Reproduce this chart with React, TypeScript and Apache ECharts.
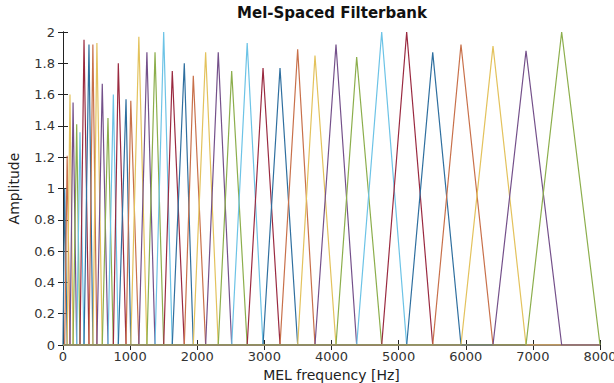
import React, { useEffect, useRef } from "react";
import * as echarts from "echarts";

// Filter centre frequencies (Hz) and peak amplitudes
const peakHz = [
  25, 62, 104, 150, 204, 253, 313, 387, 445, 505,
  585, 670, 750, 824, 939, 1010, 1130, 1250, 1371, 1500,
  1628, 1807, 1941, 2125, 2313, 2513, 2744, 2980, 3233, 3496,
  3754, 4067, 4375, 4748, 5120, 5508, 5929, 6406, 6898, 7429,
];
const peakAmp = [
  1.0, 1.21, 1.6, 1.55, 1.41, 1.36, 1.95, 1.92, 1.92, 1.93,
  1.67, 1.45, 1.6, 1.8, 1.57, 1.56, 1.97, 1.87, 1.87, 2.0,
  1.75, 1.8, 1.72, 1.87, 1.87, 1.75, 1.93, 1.77, 1.77, 1.89,
  1.85, 1.92, 1.84, 2.0, 2.0, 1.87, 1.92, 1.91, 1.88, 2.0,
];
const freqRange = [0, 8000];
const ampRange = [0, 2];
const lineColors = ["#2f6f9f", "#c8704a", "#e3c25c", "#74508a", "#8cae4c", "#6cc3e6", "#9a2a40"];
const titleText = "Mel-Spaced Filterbank";
const xName = "MEL frequency [Hz]";
const yName = "Amplitude";

export default function App() {
  const ref = useRef<HTMLDivElement>(null);
  useEffect(() => {
    document.body.style.margin = "0";
    const chart = echarts.init(ref.current!, null, { renderer: "svg" });
    const n = peakHz.length;
    const series = peakHz.map((c, i) => {
      const start = i === 0 ? freqRange[0] : peakHz[i - 1];
      const end = i === n - 1 ? freqRange[1] : peakHz[i + 1];
      return {
        type: "line",
        showSymbol: false,
        silent: true,
        data: [
          [freqRange[0], 0],
          [start, 0],
          [c, peakAmp[i]],
          [end, 0],
          [freqRange[1], 0],
        ],
        lineStyle: { width: 1.2, color: lineColors[i % lineColors.length] },
        itemStyle: { color: lineColors[i % lineColors.length] },
      };
    });
    const axisLine = { show: true, lineStyle: { color: "#222", width: 1 } };
    const tick = { show: true, inside: true, length: 5, lineStyle: { color: "#222" } };
    chart.setOption({
      animation: false,
      backgroundColor: "#fff",
      grid: { left: 63, right: 14, top: 32, bottom: 38, outerBoundsMode: "none", containLabel: false },
      graphic: [
        {
          type: "text",
          x: 332,
          y: 13,
          style: {
            text: titleText,
            font: "bold 15px 'DejaVu Sans'",
            fill: "#111",
            align: "center",
            verticalAlign: "middle",
          },
        },
      ],
      xAxis: [
        {
          type: "value",
          min: freqRange[0],
          max: freqRange[1],
          interval: 1000,
          name: xName,
          nameLocation: "middle",
          nameGap: 16,
          nameTextStyle: { fontFamily: "DejaVu Sans", fontSize: 14, color: "#222" },
          axisLine,
          axisTick: tick,
          splitLine: { show: false },
          axisLabel: {
            fontFamily: "DejaVu Sans",
            fontSize: 13,
            color: "#333",
            margin: 5,
            formatter: (v: number) => String(v),
          },
        },
        {
          type: "value",
          position: "top",
          min: freqRange[0],
          max: freqRange[1],
          interval: 1000,
          axisLine,
          axisTick: tick,
          splitLine: { show: false },
          axisLabel: { show: false },
        },
      ],
      yAxis: [
        {
          type: "value",
          min: ampRange[0],
          max: ampRange[1],
          interval: 0.2,
          name: yName,
          nameLocation: "middle",
          nameRotate: 90,
          nameGap: 42,
          nameTextStyle: { fontFamily: "DejaVu Sans", fontSize: 14, color: "#222" },
          axisLine,
          axisTick: tick,
          splitLine: { show: false },
          axisLabel: { fontFamily: "DejaVu Sans", fontSize: 13, color: "#333", margin: 8 },
        },
        {
          type: "value",
          position: "right",
          min: ampRange[0],
          max: ampRange[1],
          interval: 0.2,
          axisLine,
          axisTick: tick,
          splitLine: { show: false },
          axisLabel: { show: false },
        },
      ],
      series,
    });
    return () => chart.dispose();
  }, []);
  return <div ref={ref} style={{ width: 614, height: 383 }} />;
}
